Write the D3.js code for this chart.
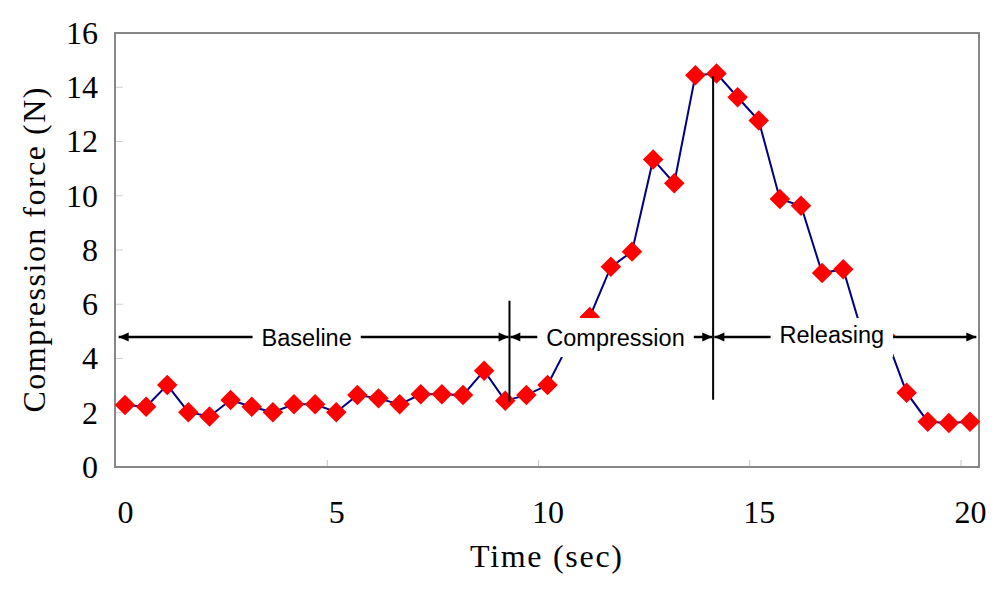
<!DOCTYPE html>
<html>
<head>
<meta charset="utf-8">
<script src="https://cdn.jsdelivr.net/npm/d3@7"></script>
<style>
  html, body { margin: 0; padding: 0; background: #ffffff; }
  svg { display: block; }
</style>
</head>
<body>
<svg id="chart" width="1004" height="596"></svg>
<script>
// ---- data ----
const times = [0, 0.5, 1, 1.5, 2, 2.5, 3, 3.5, 4, 4.5, 5, 5.5, 6, 6.5, 7, 7.5, 8, 8.5, 9, 9.5,
               10, 10.5, 11, 11.5, 12, 12.5, 13, 13.5, 14, 14.5, 15, 15.5, 16, 16.5, 17, 17.5, 18, 18.5, 19, 19.5, 20];
const force = [2.29, 2.22, 3.02, 2.02, 1.86, 2.47, 2.22, 2.02, 2.31, 2.31, 2.02, 2.65, 2.53, 2.31, 2.68, 2.68, 2.65, 3.55, 2.44, 2.65,
               3.02, 4.53, 5.53, 7.38, 7.94, 11.34, 10.46, 14.44, 14.51, 13.63, 12.77, 9.88, 9.63, 7.15, 7.29, 4.66, 4.83, 2.74, 1.67, 1.62, 1.67];
const xTicks = [0, 5, 10, 15, 20];
const yTicks = [0, 2, 4, 6, 8, 10, 12, 14, 16];
const xTitle = "Time (sec)";
const yTitle = "Compression force (N)";

// phase annotations
const phaseLabels = ["Baseline", "Compression", "Releasing"];
const phaseStart  = [-0.15, 9.12, 13.95];
const phaseEnd    = [9.08, 13.9, 20.15];
const phaseLabelX = [4.30, 11.61, 16.73];
const phaseArrowY = 4.79;
const dividerTime   = [9.1, 13.92];
const dividerTop    = [6.13, 14.41];
const dividerBottom = [2.41, 2.48];

// ---- layout ----
const svg = d3.select("#chart");
const frame = { left: 115, right: 979, top: 33, bottom: 467 };
const x = d3.scaleLinear().domain([0, 20]).range([125, 970]);
const y = d3.scaleLinear().domain([0, 16]).range([467, 33]);
const serif = "'Liberation Serif', 'DejaVu Serif', serif";

svg.append("rect").attr("width", 1004).attr("height", 596).attr("fill", "#fff");

// arrow markers
const defs = svg.append("defs");
defs.append("marker").attr("id", "arrEnd").attr("viewBox", "0 0 10 10")
  .attr("refX", 10).attr("refY", 5).attr("markerWidth", 11).attr("markerHeight", 10)
  .attr("markerUnits", "userSpaceOnUse").attr("orient", "auto")
  .append("path").attr("d", "M0,0.5 L10,5 L0,9.5 Z").attr("fill", "#000");
defs.append("marker").attr("id", "arrStart").attr("viewBox", "0 0 10 10")
  .attr("refX", 0).attr("refY", 5).attr("markerWidth", 11).attr("markerHeight", 10)
  .attr("markerUnits", "userSpaceOnUse").attr("orient", "auto")
  .append("path").attr("d", "M10,0.5 L0,5 L10,9.5 Z").attr("fill", "#000");

// plot frame
svg.append("rect")
  .attr("x", frame.left).attr("y", frame.top)
  .attr("width", frame.right - frame.left).attr("height", frame.bottom - frame.top)
  .attr("fill", "#fff").attr("stroke", "#878787").attr("stroke-width", 2);

// faint inner tick marks
svg.append("g").selectAll("line").data(xTicks.slice(1)).join("line")
  .attr("x1", d => x(d) - 9).attr("x2", d => x(d) - 9)
  .attr("y1", frame.bottom - 1).attr("y2", frame.bottom - 7)
  .attr("stroke", "#c4c4c4").attr("stroke-width", 1);
svg.append("g").selectAll("line").data(yTicks.slice(1, -1)).join("line")
  .attr("x1", frame.left + 1).attr("x2", frame.left + 8)
  .attr("y1", d => y(d)).attr("y2", d => y(d))
  .attr("stroke", "#d0d0d0").attr("stroke-width", 1);

// axes (labels only)
const xAxis = svg.append("g").attr("transform", `translate(0,${frame.bottom})`)
  .call(d3.axisBottom(x).tickValues(xTicks).tickSize(0).tickPadding(33).tickFormat(d3.format("d")));
xAxis.select(".domain").remove();
xAxis.selectAll("text").attr("font-family", serif).attr("font-size", 32).attr("fill", "#000");

const yAxis = svg.append("g").attr("transform", `translate(${frame.left},0)`)
  .call(d3.axisLeft(y).tickValues(yTicks).tickSize(0).tickPadding(17).tickFormat(d3.format("d")));
yAxis.select(".domain").remove();
yAxis.selectAll("text").attr("font-family", serif).attr("font-size", 32).attr("fill", "#000");

// axis titles
svg.append("text").text(xTitle)
  .attr("x", 546).attr("y", 567).attr("text-anchor", "middle")
  .attr("font-family", serif).attr("font-size", 32)
  .attr("textLength", 152).attr("lengthAdjust", "spacing").attr("fill", "#000");
svg.append("text").text(yTitle)
  .attr("transform", "translate(45,250) rotate(-90)").attr("text-anchor", "middle")
  .attr("font-family", serif).attr("font-size", 32)
  .attr("textLength", 325).attr("lengthAdjust", "spacing").attr("fill", "#000");

// data line
const pts = times.map((t, i) => [t, force[i]]);
svg.append("path").datum(pts)
  .attr("d", d3.line().x(d => x(d[0])).y(d => y(d[1])))
  .attr("fill", "none").attr("stroke", "#000080").attr("stroke-width", 2);

// diamond markers
const diamond = d3.symbol().type(d3.symbolSquare).size(210);
svg.append("g").selectAll("path").data(pts).join("path")
  .attr("d", diamond)
  .attr("transform", d => `translate(${x(d[0])},${y(d[1])}) rotate(45)`)
  .attr("fill", "#ff0000");

// phase divider lines
svg.append("g").selectAll("line").data(dividerTime).join("line")
  .attr("x1", d => x(d)).attr("x2", d => x(d))
  .attr("y1", (d, i) => y(dividerTop[i])).attr("y2", (d, i) => y(dividerBottom[i]))
  .attr("stroke", "#000").attr("stroke-width", 2);

// phase arrows
svg.append("g").selectAll("line").data(phaseLabels).join("line")
  .attr("x1", (d, i) => x(phaseStart[i])).attr("x2", (d, i) => x(phaseEnd[i]))
  .attr("y1", y(phaseArrowY)).attr("y2", y(phaseArrowY))
  .attr("stroke", "#000").attr("stroke-width", 2.5)
  .attr("marker-start", "url(#arrStart)").attr("marker-end", "url(#arrEnd)");

// phase labels with white boxes
const labelG = svg.append("g");
phaseLabels.forEach((lab, i) => {
  const g = labelG.append("g");
  const box = g.append("rect").attr("fill", "#fff");
  const t = g.append("text").text(lab)
    .attr("x", x(phaseLabelX[i])).attr("y", y(phaseArrowY) + (i === 2 ? 6 : 9))
    .attr("text-anchor", "middle")
    .attr("font-family", "'Liberation Sans', Arial, sans-serif").attr("font-size", 23.5)
    .attr("fill", "#000");
  const bb = t.node().getBBox();
  box.attr("x", bb.x - 9).attr("width", bb.width + 18)
     .attr("y", y(phaseArrowY) - 19).attr("height", 39);
});
</script>
</body>
</html>
